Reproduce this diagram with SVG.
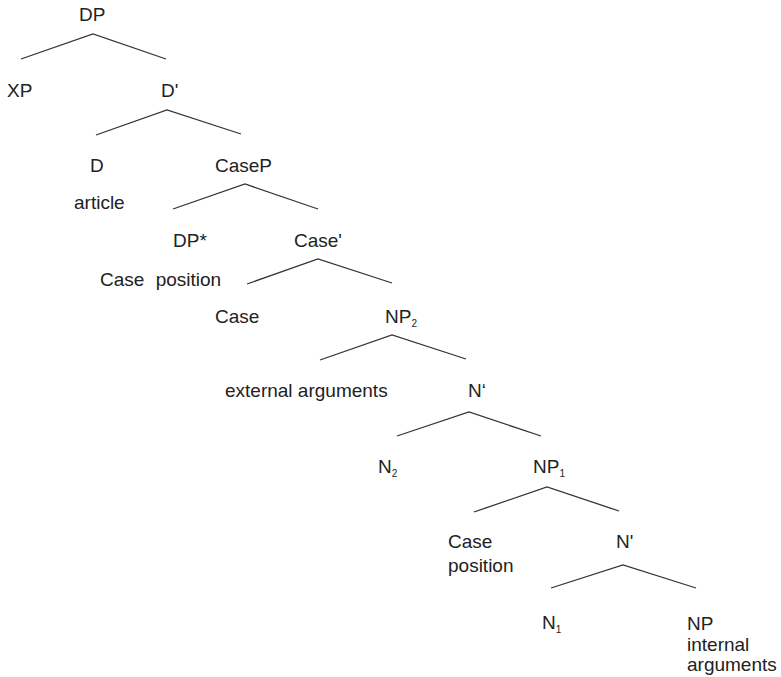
<svg xmlns="http://www.w3.org/2000/svg" width="781" height="677" viewBox="0 0 781 677">
<style>
text { font-family: "Liberation Sans", Arial, sans-serif; font-size: 19px; fill: #222; }
.sub { font-size: 10px; }
.br { fill: none; stroke: #333; stroke-width: 1.3; }
</style>
<rect width="781" height="677" fill="#fff"/>
<g id="connectors">
<polyline class="br" points="21,59 93,34 166,59"/>
<polyline class="br" points="96,135 167,110 241,134"/>
<polyline class="br" points="173,209 245,184 318,209"/>
<polyline class="br" points="247,284 318,259 392,283"/>
<polyline class="br" points="320,360 392,335 466,359"/>
<polyline class="br" points="397,436 469,412 541,436"/>
<polyline class="br" points="474,512 547,487 619,511"/>
<polyline class="br" points="551,588 623,565 696,588"/>
</g>
<g id="n-DP"><text x="79" y="21">DP</text></g>
<g id="n-XP"><text x="7" y="97">XP</text></g>
<g id="n-Dbar"><text x="161" y="97">D'</text></g>
<g id="n-D"><text x="90" y="172">D</text><text x="74" y="209">article</text></g>
<g id="n-CaseP"><text x="215" y="172">CaseP</text></g>
<g id="n-DPstar"><text x="173" y="247">DP*</text><text x="100" y="286" word-spacing="6">Case position</text></g>
<g id="n-Casebar"><text x="294" y="247">Case'</text></g>
<g id="n-Case"><text x="215" y="323">Case</text></g>
<g id="n-NP2"><text x="385" y="323">NP<tspan class="sub" dy="4">2</tspan></text></g>
<g id="n-ext"><text x="225" y="397">external arguments</text></g>
<g id="n-Nbar2"><text x="468" y="397">N‘</text></g>
<g id="n-N2"><text x="378" y="473">N<tspan class="sub" dy="4">2</tspan></text></g>
<g id="n-NP1"><text x="533" y="473">NP<tspan class="sub" dy="4">1</tspan></text></g>
<g id="n-CasePos"><text x="448" y="548">Case</text><text x="448" y="572">position</text></g>
<g id="n-Nbar1"><text x="616" y="548">N'</text></g>
<g id="n-N1"><text x="542" y="629">N<tspan class="sub" dy="4">1</tspan></text></g>
<g id="n-NP"><text x="687" y="630">NP</text><text x="687" y="651">internal</text><text x="687" y="671">arguments</text></g>
</svg>
